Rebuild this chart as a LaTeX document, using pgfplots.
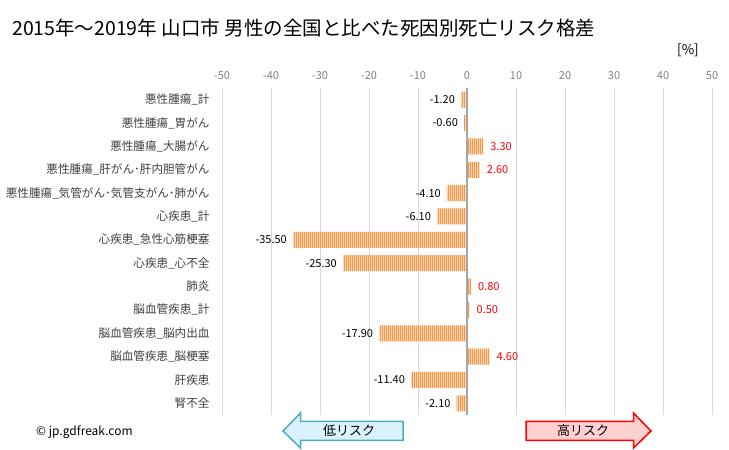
\documentclass[border=0pt]{standalone}
\usepackage{fontspec}
\setmainfont{Noto Sans CJK JP}
\usepackage{pgfplots}
\pgfplotsset{compat=1.18}
\usetikzlibrary{patterns.meta}
\definecolor{barorange}{RGB}{247,150,70}
\definecolor{barlight}{RGB}{252,214,180}
\definecolor{gridgray}{RGB}{217,217,217}
\definecolor{zerogray}{RGB}{166,166,166}
\definecolor{ticktxt}{RGB}{128,128,128}
\definecolor{cattxt}{RGB}{64,64,64}
\definecolor{lowfill}{RGB}{218,242,252}
\definecolor{lowdraw}{RGB}{75,172,198}
\definecolor{highfill}{RGB}{255,208,208}
\definecolor{highdraw}{RGB}{255,0,0}
\begin{document}
\begin{tikzpicture}
\path[use as bounding box] (0,0) rectangle (729bp,450bp);
\node[anchor=west, inner sep=0pt] at (12bp,422bp) {\fontsize{19.5bp}{23bp}\selectfont 2015年～2019年 山口市 男性の全国と比べた死因別死亡リスク格差};
\node[anchor=center, inner sep=0pt] at (688bp,400bp) {\fontsize{13.5bp}{15bp}\selectfont [\%]};
\node[anchor=west, inner sep=0pt] at (36bp,18bp) {\fontsize{12bp}{14bp}\selectfont © jp.gdfreak.com};
\begin{axis}[
  at={(222bp,35bp)}, anchor=south west,
  scale only axis, width=490bp, height=327bp,
  xbar, bar width=16bp, bar shift=0pt,
  xmin=-50, xmax=50, ymin=-0.5, ymax=13.5,
  y dir=reverse,
  xtick={-50,-40,...,50},
  xticklabel pos=top,
  ytick={0,...,13},
  yticklabels={悪性腫瘍\_計,悪性腫瘍\_胃がん,悪性腫瘍\_大腸がん,悪性腫瘍\_肝がん･肝内胆管がん,悪性腫瘍\_気管がん･気管支がん･肺がん,心疾患\_計,心疾患\_急性心筋梗塞,心疾患\_心不全,肺炎,脳血管疾患\_計,脳血管疾患\_脳内出血,脳血管疾患\_脳梗塞,肝疾患,腎不全},
  axis line style={draw=none},
  major tick style={draw=none},
  minor tick style={draw=none},
  xmajorgrids,
  major grid style={gridgray, line width=0.75bp},
  /pgf/number format/assume math mode=true,
  xticklabel style={font=\fontsize{11bp}{13bp}\selectfont, text=ticktxt, inner sep=0pt, yshift=8bp},
  yticklabel style={font=\fontsize{11.6bp}{14bp}\selectfont, text=cattxt, inner sep=0pt, xshift=-8bp},
  point meta=x,
  nodes near coords={\pgfmathprintnumber[fixed,fixed zerofill,precision=2]{\pgfplotspointmeta}},
  every node near coord/.append style={font=\fontsize{11bp}{13bp}\selectfont, inner sep=0pt},
  clip=false,
]
\addplot[draw=none, fill=barlight, postaction={pattern={Lines[angle=90,distance=2bp,line width=1bp]}, pattern color=barorange},
  every node near coord/.append style={anchor=east, text=black, xshift=-6bp}]
  coordinates {(-1.2,0) (-0.6,1) (-4.1,4) (-6.1,5) (-35.5,6) (-25.3,7) (-17.9,10) (-11.4,12) (-2.1,13)};
\addplot[draw=none, fill=barlight, postaction={pattern={Lines[angle=90,distance=2bp,line width=1bp]}, pattern color=barorange},
  every node near coord/.append style={anchor=west, text=red, xshift=7bp}]
  coordinates {(3.3,2) (2.6,3) (0.8,8) (0.5,9) (4.6,11)};
\draw[zerogray, line width=1.5bp] (axis cs:0,-0.5) -- (axis cs:0,13.5);
\end{axis}
% risk arrows
\draw[lowdraw, fill=lowfill, line width=1.5bp, line join=miter]
  (283bp,19bp) -- (300.5bp,37bp) -- (300.5bp,28.5bp) -- (403bp,28.5bp) -- (403bp,9.5bp) -- (300.5bp,9.5bp) -- (300.5bp,2bp) -- cycle;
\node at (349bp,19bp) {\fontsize{13bp}{15bp}\selectfont 低リスク};
\draw[highdraw, fill=highfill, line width=1.5bp, line join=miter]
  (651bp,19bp) -- (633.5bp,37bp) -- (633.5bp,28.5bp) -- (526bp,28.5bp) -- (526bp,9.5bp) -- (633.5bp,9.5bp) -- (633.5bp,2bp) -- cycle;
\node at (583bp,19bp) {\fontsize{13bp}{15bp}\selectfont 高リスク};
\end{tikzpicture}
\end{document}
